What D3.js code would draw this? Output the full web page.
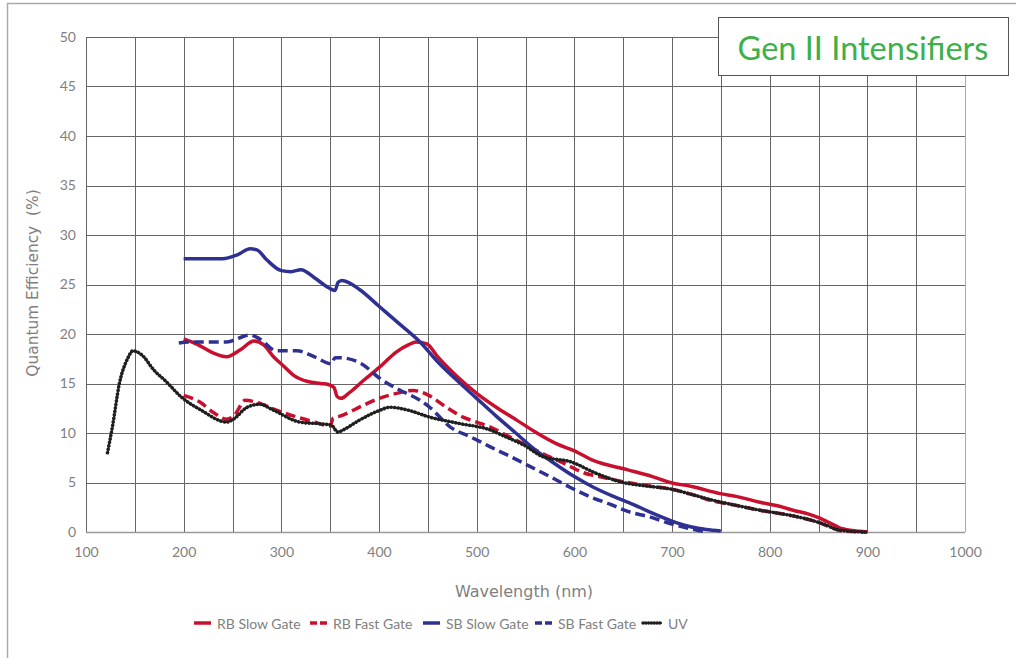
<!DOCTYPE html>
<html>
<head>
<meta charset="utf-8">
<script src="https://cdn.jsdelivr.net/npm/d3@7"></script>
<style>
  body { margin: 0; background: #fff; }
  svg text { font-family: 'Lato', 'DejaVu Sans', sans-serif; }
</style>
</head>
<body>
<div class="chart"></div>
<script>
// wavelength (nm), quantum efficiency (%)
const rbSlowX = [200, 215, 230, 244, 258, 272, 282, 292, 302, 313, 327, 340, 348, 354, 357, 361, 370, 384, 400, 418, 430, 438, 449, 460, 480, 500, 520, 541, 560, 582, 600, 620, 654, 680, 698, 720, 748, 770, 790, 810, 824, 840, 850, 862, 871, 885, 900];
const rbSlowY = [19.5, 18.9, 18.1, 17.7, 18.4, 19.3, 18.9, 17.7, 16.8, 15.8, 15.2, 15.0, 14.9, 14.6, 13.7, 13.5, 14.1, 15.3, 16.6, 18.2, 18.9, 19.2, 19.0, 17.7, 15.7, 14.0, 12.6, 11.3, 10.1, 8.9, 8.2, 7.2, 6.3, 5.6, 5.0, 4.6, 3.9, 3.5, 3.0, 2.6, 2.2, 1.8, 1.45, 0.9, 0.45, 0.15, 0];

const rbFastX = [200, 217, 230, 244, 252, 263, 278, 295, 313, 334, 350, 353, 360, 384, 400, 418, 435, 449, 469, 486, 500, 514, 530, 548, 568, 590, 609, 630, 654, 680, 698, 720, 739, 765, 790, 820, 844, 860, 874, 900];
const rbFastY = [13.8, 13.1, 12.1, 11.4, 11.8, 13.3, 13.0, 12.3, 11.7, 11.1, 10.7, 11.5, 11.7, 12.8, 13.5, 14.0, 14.3, 13.9, 12.6, 11.6, 11.1, 10.6, 9.8, 8.9, 7.9, 6.9, 6.0, 5.5, 5.0, 4.6, 4.35, 3.8, 3.2, 2.7, 2.2, 1.7, 1.15, 0.6, 0.1, 0];

const sbSlowX = [200, 220, 240, 255, 268, 275, 285, 300, 310, 320, 335, 348, 355, 358, 362, 380, 400, 420, 442, 460, 480, 500, 520, 540, 560, 580, 600, 620, 640, 660, 680, 700, 720, 735, 750];
const sbSlowY = [27.6, 27.6, 27.6, 28.0, 28.6, 28.5, 27.5, 26.4, 26.3, 26.5, 25.6, 24.7, 24.4, 25.2, 25.4, 24.5, 22.8, 21.1, 19.2, 17.2, 15.3, 13.5, 11.7, 10.0, 8.3, 6.9, 5.6, 4.5, 3.6, 2.8, 1.9, 1.1, 0.5, 0.25, 0.1];

const sbFastX = [195, 210, 230, 244, 268, 278, 295, 316, 334, 351, 355, 360, 382, 401, 420, 442, 452, 473, 494, 514, 535, 555, 575, 596, 620, 637, 654, 678, 700, 720, 735];
const sbFastY = [19.1, 19.2, 19.2, 19.2, 19.9, 19.5, 18.3, 18.3, 17.7, 17.0, 17.6, 17.6, 17.0, 15.5, 14.4, 13.3, 12.6, 10.6, 9.6, 8.6, 7.6, 6.6, 5.6, 4.5, 3.4, 2.8, 2.1, 1.5, 0.8, 0.3, 0];

const uvX = [122, 127, 134, 143, 148, 157, 170, 181, 198, 218, 244, 251, 265, 278, 292, 319, 343, 351, 358, 363, 380, 401, 411, 430, 452, 480, 514, 530, 548, 568, 596, 623, 650, 678, 698, 720, 742, 765, 790, 820, 844, 858, 867, 880, 900];
const uvY = [8.0, 10.6, 14.9, 17.6, 18.3, 17.9, 16.3, 15.3, 13.6, 12.3, 11.1, 11.4, 12.6, 12.9, 12.3, 11.1, 10.9, 10.8, 10.1, 10.3, 11.3, 12.3, 12.6, 12.3, 11.6, 11.0, 10.3, 9.6, 8.8, 7.6, 7.1, 5.9, 5.0, 4.6, 4.35, 3.8, 3.2, 2.7, 2.2, 1.7, 1.15, 0.7, 0.3, 0.1, 0];

const seriesNames = ['RB Slow Gate', 'RB Fast Gate', 'SB Slow Gate', 'SB Fast Gate', 'UV'];
const xTicks = [100, 200, 300, 400, 500, 600, 700, 800, 900, 1000];
const yTicks = [0, 5, 10, 15, 20, 25, 30, 35, 40, 45, 50];

const RED = '#c8102e';
const BLUE = '#2e3192';
const BLACK = '#1f1f1f';
const GREY_TEXT = '#7f7f7f';

const series = [
  { name: seriesNames[0], xs: rbSlowX, ys: rbSlowY, color: RED, dash: null },
  { name: seriesNames[1], xs: rbFastX, ys: rbFastY, color: RED, dash: '10,5' },
  { name: seriesNames[2], xs: sbSlowX, ys: sbSlowY, color: BLUE, dash: null },
  { name: seriesNames[3], xs: sbFastX, ys: sbFastY, color: BLUE, dash: '10,5' },
  { name: seriesNames[4], xs: uvX, ys: uvY, color: BLACK, dash: 'dot' },
];

const W = 1016, H = 658;
const margin = { top: 37, right: 51, bottom: 126, left: 86 };
const width = W - margin.left - margin.right;
const height = H - margin.top - margin.bottom;

const svg = d3.select('.chart').append('svg')
  .attr('width', W)
  .attr('height', H);

// outer frame
svg.append('rect')
  .attr('x', 7.5).attr('y', 3.5)
  .attr('width', 1100).attr('height', 700)
  .attr('fill', 'none')
  .attr('stroke', '#aaa')
  .attr('stroke-width', 1.5);

const g = svg.append('g')
  .attr('transform', `translate(${margin.left},${margin.top})`);

const x = d3.scaleLinear().domain([100, 1000]).range([0, width]);
const y = d3.scaleLinear().domain([0, 50]).range([height, 0]);

// grid
const vGrid = d3.range(100, 1001, 50);
g.selectAll('.vgrid').data(vGrid).enter().append('line')
  .attr('x1', d => Math.round(x(d)) + 0.5).attr('x2', d => Math.round(x(d)) + 0.5)
  .attr('y1', 0).attr('y2', height)
  .attr('stroke', d => d === 1000 ? '#aaa' : '#666')
  .attr('stroke-width', 1);

g.selectAll('.hgrid').data(yTicks).enter().append('line')
  .attr('x1', 0).attr('x2', width)
  .attr('y1', d => Math.round(y(d)) + 0.5).attr('y2', d => Math.round(y(d)) + 0.5)
  .attr('stroke', d => d === 0 ? '#999' : '#666')
  .attr('stroke-width', d => d === 0 ? 1.5 : 1);

// axes
const xAxis = g.append('g')
  .attr('transform', `translate(0,${height})`)
  .call(d3.axisBottom(x).tickValues(xTicks).tickFormat(d3.format('d')).tickSize(0).tickPadding(15));
const yAxis = g.append('g')
  .call(d3.axisLeft(y).tickValues(yTicks).tickSize(0).tickPadding(10));
[xAxis, yAxis].forEach(a => {
  a.select('.domain').remove();
  a.selectAll('text')
    .attr('fill', GREY_TEXT)
    .style('font-size', '14px')
    .style('font-family', "'Lato', 'DejaVu Sans', sans-serif");
});

svg.append('text')
  .attr('x', 524)
  .attr('y', 597)
  .attr('text-anchor', 'middle')
  .attr('fill', GREY_TEXT)
  .style('font-family', "'DejaVu Sans', sans-serif")
  .style('font-size', '16px')
  .text('Wavelength (nm)');

svg.append('text')
  .attr('transform', 'translate(38,283) rotate(-90)')
  .attr('text-anchor', 'middle')
  .attr('fill', GREY_TEXT)
  .style('font-family', "'DejaVu Sans', sans-serif")
  .style('font-size', '15.4px')
  .style('white-space', 'pre')
  .text('Quantum Efficiency  (%)');

// series
const line = d3.line()
  .x(d => x(d[0]))
  .y(d => y(d[1]))
  .curve(d3.curveMonotoneX);

series.forEach(s => {
  const pts = s.xs.map((v, i) => [v, s.ys[i]]);
  if (s.dash === 'dot') {
    // beaded dotted line: thin core + round dots
    g.append('path')
      .datum(pts)
      .attr('fill', 'none')
      .attr('stroke', s.color)
      .attr('stroke-width', 1.6)
      .attr('d', line);
    g.append('path')
      .datum(pts)
      .attr('fill', 'none')
      .attr('stroke', s.color)
      .attr('stroke-width', 3.6)
      .attr('stroke-linecap', 'round')
      .attr('stroke-dasharray', '0.1,3.4')
      .attr('d', line);
  } else {
    const p = g.append('path')
      .datum(pts)
      .attr('fill', 'none')
      .attr('stroke', s.color)
      .attr('stroke-width', 3.5)
      .attr('stroke-linejoin', 'round')
      .attr('d', line);
    if (s.dash) p.attr('stroke-dasharray', s.dash);
  }
});

// title box
svg.append('rect')
  .attr('x', 718.5).attr('y', 17.5)
  .attr('width', 290).attr('height', 58)
  .attr('fill', '#fff')
  .attr('stroke', '#555')
  .attr('stroke-width', 1);
svg.append('text')
  .attr('x', 863).attr('y', 60)
  .attr('text-anchor', 'middle')
  .attr('fill', '#3cb04a')
  .style('font-size', '32.5px')
  .text('Gen II Intensifiers');

// legend
const legendPos = [194, 310, 423, 535, 643];
const legend = svg.append('g').attr('transform', 'translate(0,623)');
series.forEach((s, i) => {
  const lg = legend.append('g').attr('transform', `translate(${legendPos[i]},0)`);
  const len = s.dash === 'dot' ? 19 : 17;
  if (s.dash === 'dot') {
    lg.append('line')
      .attr('x1', 0).attr('x2', len).attr('y1', 0).attr('y2', 0)
      .attr('stroke', s.color).attr('stroke-width', 1.6);
    lg.append('line')
      .attr('x1', 0).attr('x2', len).attr('y1', 0).attr('y2', 0)
      .attr('stroke', s.color).attr('stroke-width', 3.4)
      .attr('stroke-linecap', 'round').attr('stroke-dasharray', '0.1,2.7');
  } else {
    const ln = lg.append('line')
      .attr('x1', 0).attr('x2', len).attr('y1', 0).attr('y2', 0)
      .attr('stroke', s.color).attr('stroke-width', 3.5);
    if (s.dash) ln.attr('stroke-dasharray', '7,3');
  }
  lg.append('text')
    .attr('x', s.dash === 'dot' ? 25 : 23)
    .attr('y', 5.5)
    .attr('fill', GREY_TEXT)
    .style('font-size', '14px')
    .text(s.name);
});
</script>
</body>
</html>
